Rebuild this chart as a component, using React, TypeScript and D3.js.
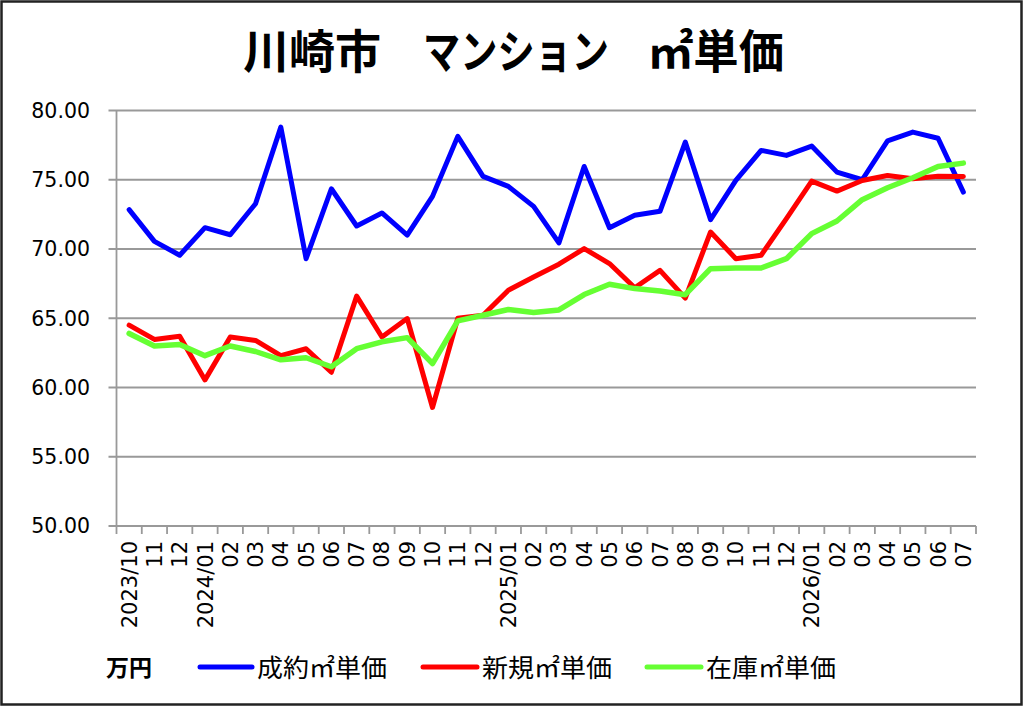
import React from "react";
import * as d3 from "d3";

const months: string[] = [
  "2023/10", "11", "12",
  "2024/01", "02", "03", "04", "05", "06", "07", "08", "09", "10", "11", "12",
  "2025/01", "02", "03", "04", "05", "06", "07", "08", "09", "10", "11", "12",
  "2026/01", "02", "03", "04", "05", "06", "07",
];

const seiyaku: number[] = [
  72.84, 70.55, 69.55, 71.54, 71.03, 73.27, 78.8, 69.3, 74.35, 71.66, 72.6, 71.0,
  73.8, 78.13, 75.24, 74.52, 73.08, 70.44, 75.96, 71.54, 72.43, 72.72, 77.72,
  72.12, 74.95, 77.12, 76.76, 77.43, 75.55, 75.0, 77.8, 78.44, 78.0, 74.11,
];

const shinki: number[] = [
  64.5, 63.47, 63.7, 60.55, 63.65, 63.4, 62.3, 62.8, 61.1, 66.6, 63.65, 64.98,
  58.56, 65.0, 65.22, 67.02, 67.98, 68.9, 70.03, 68.95, 67.2, 68.46, 66.45,
  71.23, 69.3, 69.55, 72.19, 74.9, 74.18, 74.95, 75.31, 75.07, 75.26, 75.24,
];

const zaiko: number[] = [
  63.9, 63.0, 63.1, 62.3, 63.0, 62.6, 62.0, 62.15, 61.5, 62.8, 63.3, 63.6,
  61.73, 64.81, 65.22, 65.63, 65.41, 65.6, 66.71, 67.45, 67.14, 66.97, 66.7,
  68.58, 68.63, 68.63, 69.3, 71.11, 72.02, 73.56, 74.42, 75.14, 75.96, 76.2,
];

const yTicks: number[] = [50, 55, 60, 65, 70, 75, 80];

const seriesNames: string[] = ["成約㎡単価", "新規㎡単価", "在庫㎡単価"];
const seriesColors: string[] = ["#0000ff", "#ff0000", "#66ff33"];

const W = 1024;
const H = 707;
const plot = { left: 116.5, right: 976, top: 110.5, bottom: 526 };

export default function App() {
  const x = d3
    .scaleBand<string>()
    .domain(months.map((_, i) => String(i)))
    .range([plot.left, plot.right])
    .padding(0);
  const y = d3.scaleLinear().domain([50, 80]).range([plot.bottom, plot.top]);
  const cx = (i: number) => (x(String(i)) as number) + x.bandwidth() / 2;

  const line = d3
    .line<number>()
    .x((_, i) => cx(i))
    .y((d) => y(d));

  const allSeries = [seiyaku, shinki, zaiko];
  const seriesWidths = [5, 5, 5.5];
  const boundaries = d3.range(months.length + 1).map(
    (i) => plot.left + i * x.bandwidth()
  );

  const numFont = "'DejaVu Sans', Verdana, sans-serif";
  const jpFont = "'Noto Sans CJK JP', sans-serif";

  const legendItems = [
    { x1: 200, x2: 252, tx: 257 },
    { x1: 423, x2: 477, tx: 482 },
    { x1: 647, x2: 701, tx: 706 },
  ];

  return (
    <svg
      width={W}
      height={H}
      style={{ position: "absolute", left: 0, top: 0, background: "#fff" }}
    >
      <rect x={0} y={0} width={W} height={H} fill="#fff" />
      <rect
        x={1.5}
        y={1.5}
        width={1020}
        height={703}
        fill="none"
        stroke="#222"
        strokeWidth={2.5}
      />

      {/* Title */}
      <g fontFamily={jpFont} fontWeight={700} fontSize={46} fill="#000">
        <text x={243} y={68} textLength={138} lengthAdjust="spacingAndGlyphs">
          川崎市
        </text>
        <text x={423} y={68} textLength={186} lengthAdjust="spacingAndGlyphs">
          マンション
        </text>
        <text x={648} y={68} textLength={136} lengthAdjust="spacingAndGlyphs">
          ㎡単価
        </text>
      </g>

      {/* Gridlines */}
      {yTicks.map((t) => (
        <line
          key={"g" + t}
          x1={plot.left - 8}
          x2={plot.right}
          y1={y(t)}
          y2={y(t)}
          stroke="#999"
          strokeWidth={1.8}
        />
      ))}
      {/* Y axis line */}
      <line
        x1={plot.left}
        x2={plot.left}
        y1={plot.top}
        y2={plot.bottom}
        stroke="#999"
        strokeWidth={1.8}
      />
      {/* X ticks */}
      {boundaries.map((bx, i) => (
        <line
          key={"xt" + i}
          x1={bx}
          x2={bx}
          y1={plot.bottom}
          y2={plot.bottom + 8}
          stroke="#999"
          strokeWidth={1.8}
        />
      ))}

      {/* Y labels */}
      {yTicks.map((t) => (
        <text
          key={"yl" + t}
          x={90}
          y={y(t)}
          dy="0.36em"
          textAnchor="end"
          fontFamily={numFont}
          fontSize={20.5}
          fill="#000"
        >
          {t.toFixed(2)}
        </text>
      ))}

      {/* X labels */}
      {months.map((m, i) => (
        <text
          key={"xl" + i}
          transform={`translate(${cx(i)},${plot.bottom + 15}) rotate(-90)`}
          dy="0.36em"
          textAnchor="end"
          fontFamily={numFont}
          fontSize={21}
          fill="#000"
        >
          {m}
        </text>
      ))}

      {/* Series */}
      {allSeries.map((s, k) => (
        <path
          key={"s" + k}
          d={line(s) || ""}
          fill="none"
          stroke={seriesColors[k]}
          strokeWidth={seriesWidths[k]}
          strokeLinejoin="round"
          strokeLinecap="round"
        />
      ))}

      {/* Legend */}
      <text
        x={106}
        y={668}
        dy="0.36em"
        fontFamily={jpFont}
        fontWeight={700}
        fontSize={23}
        fill="#000"
      >
        万円
      </text>
      {legendItems.map((li, k) => (
        <g key={"lg" + k}>
          <line
            x1={li.x1}
            x2={li.x2}
            y1={667}
            y2={667}
            stroke={seriesColors[k]}
            strokeWidth={5}
            strokeLinecap="round"
          />
          <text
            x={li.tx}
            y={668}
            dy="0.36em"
            fontFamily={jpFont}
            fontSize={25}
            fill="#000"
            textLength={130}
            lengthAdjust="spacingAndGlyphs"
          >
            {seriesNames[k]}
          </text>
        </g>
      ))}
    </svg>
  );
}
